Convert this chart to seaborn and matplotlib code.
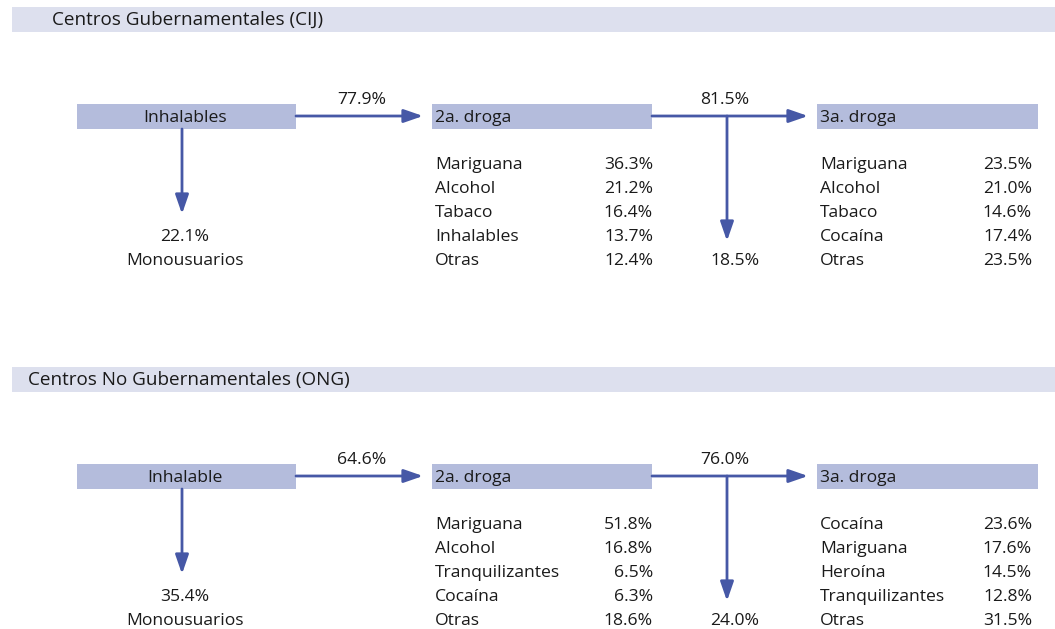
import matplotlib
matplotlib.use("Agg")
import matplotlib.pyplot as plt
import seaborn as sns

# section data
section_titles = ["Centros Gubernamentales (CIJ)", "Centros No Gubernamentales (ONG)"]
first_drug = ["Inhalables", "Inhalable"]
pct_continue_1 = ["77.9%", "64.6%"]
pct_mono = ["22.1%", "35.4%"]
pct_continue_2 = ["81.5%", "76.0%"]
pct_stop_2 = ["18.5%", "24.0%"]

second_labels = [["Mariguana", "Alcohol", "Tabaco", "Inhalables", "Otras"],
                 ["Mariguana", "Alcohol", "Tranquilizantes", "Cocaína", "Otras"]]
second_values = [["36.3%", "21.2%", "16.4%", "13.7%", "12.4%"],
                 ["51.8%", "16.8%", "6.5%", "6.3%", "18.6%"]]
third_labels = [["Mariguana", "Alcohol", "Tabaco", "Cocaína", "Otras"],
                ["Cocaína", "Mariguana", "Heroína", "Tranquilizantes", "Otras"]]
third_values = [["23.5%", "21.0%", "14.6%", "17.4%", "23.5%"],
                ["23.6%", "17.6%", "14.5%", "12.8%", "31.5%"]]

sns.set_theme(style="white")
plt.rcParams['font.family'] = ['Open Sans', 'DejaVu Sans']

band_col = "#dde0ee"
box_col = "#b4bcdc"
arrow_col = "#4658a6"
txt_col = "#1a1a1a"
fs = 12.6

fig = plt.figure(figsize=(10.55, 6.29), dpi=100)
ax = fig.add_axes([0, 0, 1, 1])
ax.set_xlim(0, 1055)
ax.set_ylim(629, 0)
ax.axis("off")

def arrow(x0, y0, x1, y1):
    ax.annotate("", xy=(x1, y1), xytext=(x0, y0),
                arrowprops=dict(arrowstyle="-|>,head_length=0.72,head_width=0.25",
                                color=arrow_col, lw=2, shrinkA=0, shrinkB=0,
                                mutation_scale=16))

def txt(x, y, s, ha="left", size=fs):
    ax.text(x, y, s, fontsize=size, color=txt_col, va="baseline", ha=ha)

for i, title in enumerate(section_titles):
    off = 360 * i
    title_x = [52, 28][i]
    # header band
    ax.add_patch(plt.Rectangle((12, 7 + off), 1043, 25, color=band_col, lw=0))
    txt(title_x, 25 + off, title, size=13.6)

    yb = 116 + off
    # boxes
    ax.add_patch(plt.Rectangle((77, yb - 12), 219, 25, color=box_col, lw=0))
    txt(185, yb + 6, first_drug[i], ha="center")
    ax.add_patch(plt.Rectangle((432, yb - 12), 220, 25, color=box_col, lw=0))
    txt(435, yb + 6, "2a. droga")
    ax.add_patch(plt.Rectangle((817, yb - 12), 221, 25, color=box_col, lw=0))
    txt(820, yb + 6, "3a. droga")

    # horizontal arrows
    arrow(296, yb, 423, yb)
    txt(362, yb - 12, pct_continue_1[i], ha="center")
    arrow(652, yb, 808, yb)
    txt(725, yb - 12, pct_continue_2[i], ha="center")

    # vertical arrows
    arrow(182, yb + 13, 182, yb + 98)
    txt(185, yb + 125, pct_mono[i], ha="center")
    txt(185, yb + 149, "Monousuarios", ha="center")
    arrow(727, yb, 727, yb + 125)
    txt(735, yb + 149, pct_stop_2[i], ha="center")

    # lists
    for k in range(5):
        yr = yb + 53 + 24 * k
        txt(435, yr, second_labels[i][k])
        txt(653, yr, second_values[i][k], ha="right")
        txt(820, yr, third_labels[i][k])
        txt(1032, yr, third_values[i][k], ha="right")

fig.savefig("out.png", dpi=100)
